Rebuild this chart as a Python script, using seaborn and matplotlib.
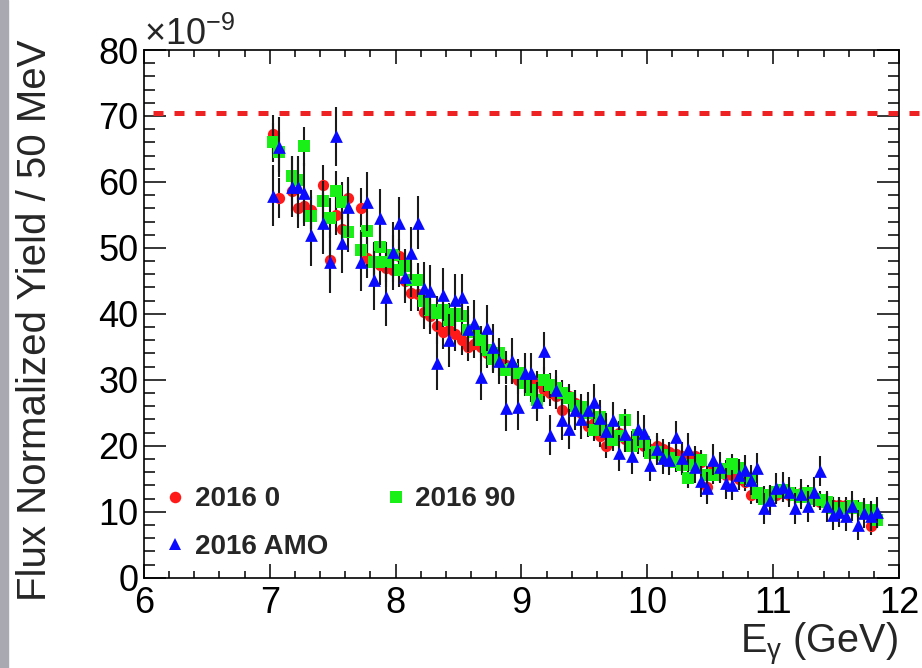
import numpy as np
import pandas as pd
import matplotlib
matplotlib.use("Agg")
import matplotlib.pyplot as plt
import seaborn as sns
from matplotlib.lines import Line2D
from matplotlib.patches import Rectangle
from matplotlib.ticker import MultipleLocator

sns.set_style("ticks")
plt.rcParams["font.family"] = ["Liberation Sans", "DejaVu Sans"]
plt.rcParams["mathtext.fontset"] = "custom"
plt.rcParams["mathtext.rm"] = "Liberation Sans"
plt.rcParams["mathtext.it"] = "Liberation Sans:italic"
plt.rcParams["mathtext.bf"] = "Liberation Sans:bold"

nan = np.nan

# 50 MeV bin centres (GeV)
E_GEV = np.round(7.025 + 0.05 * np.arange(97), 3)

# Flux normalized yield (units of 1e-9); nan = empty tagger bin
YIELD_2016_0 = [
    67.2, 57.6, nan, 58.6, 56.0, 56.3, 55.8, nan, 59.6, 48.2,
    55.0, 52.9, 57.5, nan, 56.1, 48.5, 47.8, 47.4, 47.0, 46.6,
    48.7, 45.0, 43.1, 43.0, 40.3, 39.6, 38.1, 37.3, 37.5, 37.0,
    36.0, 35.0, 35.5, 35.0, 34.0, 33.5, 32.8, 32.2, 31.5, 30.0,
    30.0, 29.5, 29.5, 28.5, 28.0, 27.5, 25.4, 27.5, 26.5, 25.0,
    23.0, 23.5, 21.5, 19.9, 21.5, 22.0, 21.0, 20.5, 20.5, 20.0,
    19.5, 20.0, 19.5, 19.0, 18.8, 18.5, 18.0, 18.5, 17.5, 13.8,
    17.0, 16.5, 15.5, 15.5, 15.0, 14.5, 12.6, 13.0, 12.5, 12.5,
    12.5, 12.8, 12.6, 12.5, 12.8, 12.3, 12.0, 11.5, 11.5, 11.0,
    11.0, 11.0, 10.5, 10.5, 10.0, 7.8, 9.0,
]
YIELD_2016_90 = [
    66.0, 64.5, nan, 60.9, 60.3, 65.4, 54.9, nan, 57.1, 54.5,
    58.7, 57.0, 52.4, nan, 49.7, 52.6, 47.9, 50.2, 47.9, 48.9,
    46.6, 47.2, 45.1, 45.1, 42.0, 40.6, 40.1, 40.6, 39.0, 40.0,
    39.6, 37.6, 37.3, 36.0, 34.5, 33.2, 34.0, 31.5, 31.7, 31.0,
    29.5, 28.5, 27.0, 30.0, 29.2, 28.7, 28.0, 27.2, 26.0, 25.9,
    25.0, 22.4, 24.4, 22.4, 20.9, 21.5, 23.9, 20.0, 21.6, 20.5,
    18.9, 19.0, 18.6, 18.1, 17.5, 17.1, 15.1, 17.1, 17.8, 15.5,
    15.6, 15.8, 16.5, 17.3, 16.6, 15.1, 14.8, 12.8, 12.0, 12.5,
    13.0, 13.3, 12.8, 12.5, 12.3, 12.8, 12.0, 11.8, 11.5, 10.5,
    10.5, 10.5, 10.8, 10.5, 10.3, 10.2, 8.8,
]
YIELD_2016_AMO = [
    57.9, 65.3, nan, 59.3, 59.3, 58.3, 51.9, nan, 53.7, 47.8,
    66.9, 50.7, 56.2, nan, 47.9, 57.0, 45.1, 54.5, 42.6, 49.4,
    53.7, 45.6, 49.2, 53.8, 43.9, 43.4, 32.5, 42.9, 36.0, 42.1,
    42.5, 37.7, 38.6, 30.5, 37.8, 35.0, 32.9, 25.7, 32.8, 25.9,
    31.0, 31.0, 26.7, 34.3, 21.6, 28.5, 23.9, 22.5, 25.4, 24.0,
    25.4, 26.7, 24.2, 22.2, 23.9, 18.9, 21.8, 18.4, 22.6, 21.9,
    17.1, 19.5, 18.1, 17.9, 21.3, 18.2, 19.5, 16.8, 14.6, 13.6,
    17.9, 16.8, 14.3, 14.1, 15.6, 16.3, 14.8, 16.6, 10.5, 11.8,
    13.6, 13.8, 13.0, 10.5, 12.7, 10.8, 13.0, 16.2, 10.8, 9.5,
    10.0, 9.4, 10.9, 8.0, 9.8, 9.4, 9.9,
]

# typical error-bar half-lengths per 0.5 GeV slice (7.0-7.5, ..., 11.5-12.0)
ERR_POLARIZED = [3.0, 3.0, 2.6, 2.2, 1.9, 1.7, 1.5, 1.4, 1.3, 1.3]
ERR_AMO = [4.6, 4.5, 4.0, 3.5, 3.0, 2.7, 2.4, 2.3, 2.3, 2.3]

LABELS = ["2016 0", "2016 90", "2016 AMO"]
REF_LEVEL = 70.4

slice_idx = np.clip(((E_GEV - 7.0) // 0.5).astype(int), 0, 9)

series = [
    (LABELS[0], YIELD_2016_0, ERR_POLARIZED, "o", "#ff1a1a", 66),
    (LABELS[1], YIELD_2016_90, ERR_POLARIZED, "s", "#18f018", 72),
    (LABELS[2], YIELD_2016_AMO, ERR_AMO, "^", "#0a0aff", 84),
]

fig = plt.figure(figsize=(9.22, 6.68), dpi=100)
ax = fig.add_axes([144 / 922, 1 - 577.7 / 668, (899 - 144) / 922, (577.7 - 50) / 668])

ax.plot([6.07, 12.16], [REF_LEVEL, REF_LEVEL], color="#ee2222", lw=3.6,
        dashes=(2.0, 2.2), clip_on=False, zorder=1.5, solid_capstyle="butt",
        dash_capstyle="butt")

z = 2
handles = []
for label, vals, errtab, mk, col, size in series:
    df = pd.DataFrame({"E": E_GEV, "y": vals})
    df["err"] = np.array(errtab)[slice_idx]
    ax.errorbar(df["E"], df["y"], yerr=df["err"], fmt="none", ecolor="#1a1a1a",
                elinewidth=1.5, capsize=0, zorder=z)
    sns.scatterplot(data=df, x="E", y="y", marker=mk, color=col, s=size,
                    linewidth=0, edgecolor=col, ax=ax, zorder=z + 0.5, legend=False)
    handles.append(Line2D([], [], marker=mk, color=col, linestyle="none",
                          markersize=8.3 if mk != "^" else 9.0, markeredgewidth=0))
    z += 1

ax.set_xlim(6, 12)
ax.set_ylim(0, 80)
ax.set_xticks(range(6, 13))
ax.set_yticks(range(0, 81, 10))
ax.xaxis.set_minor_locator(MultipleLocator(0.2))
ax.yaxis.set_minor_locator(MultipleLocator(2))
ax.tick_params(axis="both", which="both", direction="in", top=True, right=True,
               width=1.1, colors="black", labelsize=26)
ax.tick_params(axis="x", which="major", length=10, pad=6)
ax.tick_params(axis="x", which="minor", length=5)
ax.tick_params(axis="y", which="major", length=16, pad=4)
ax.tick_params(axis="y", which="minor", length=8)
for sp in ax.spines.values():
    sp.set_linewidth(1.2)
    sp.set_color("black")
ax.set_xlabel("")
ax.set_ylabel("")

fig.text(35 / 922, 1 - 320 / 668, "Flux Normalized Yield / 50 MeV", rotation=90,
         ha="center", va="center", fontsize=29)
fig.text(898 / 922, 1 - 653 / 668, r"E$_{\mathregular{\gamma}}$ (GeV)",
         ha="right", va="baseline", fontsize=28.5)
fig.text(144 / 922, 1 - 45 / 668, r"$\mathregular{\times10^{-9}}$",
         ha="left", va="baseline", fontsize=26)

order = [0, 2, 1]
leg = ax.legend([handles[i] for i in order], [LABELS[i] for i in order], ncol=2,
                loc="upper left", bbox_to_anchor=(0.0265, 0.173), frameon=False,
                prop={"weight": "bold", "size": 20}, handlelength=0.8,
                handletextpad=0.3, columnspacing=2.05, labelspacing=0.76,
                borderpad=0, borderaxespad=0)

fig.patches.append(Rectangle((0, 0), 8 / 922, 1, transform=fig.transFigure,
                             color="#a9a9b1", zorder=-1))

fig.savefig("out.png", dpi=100)
